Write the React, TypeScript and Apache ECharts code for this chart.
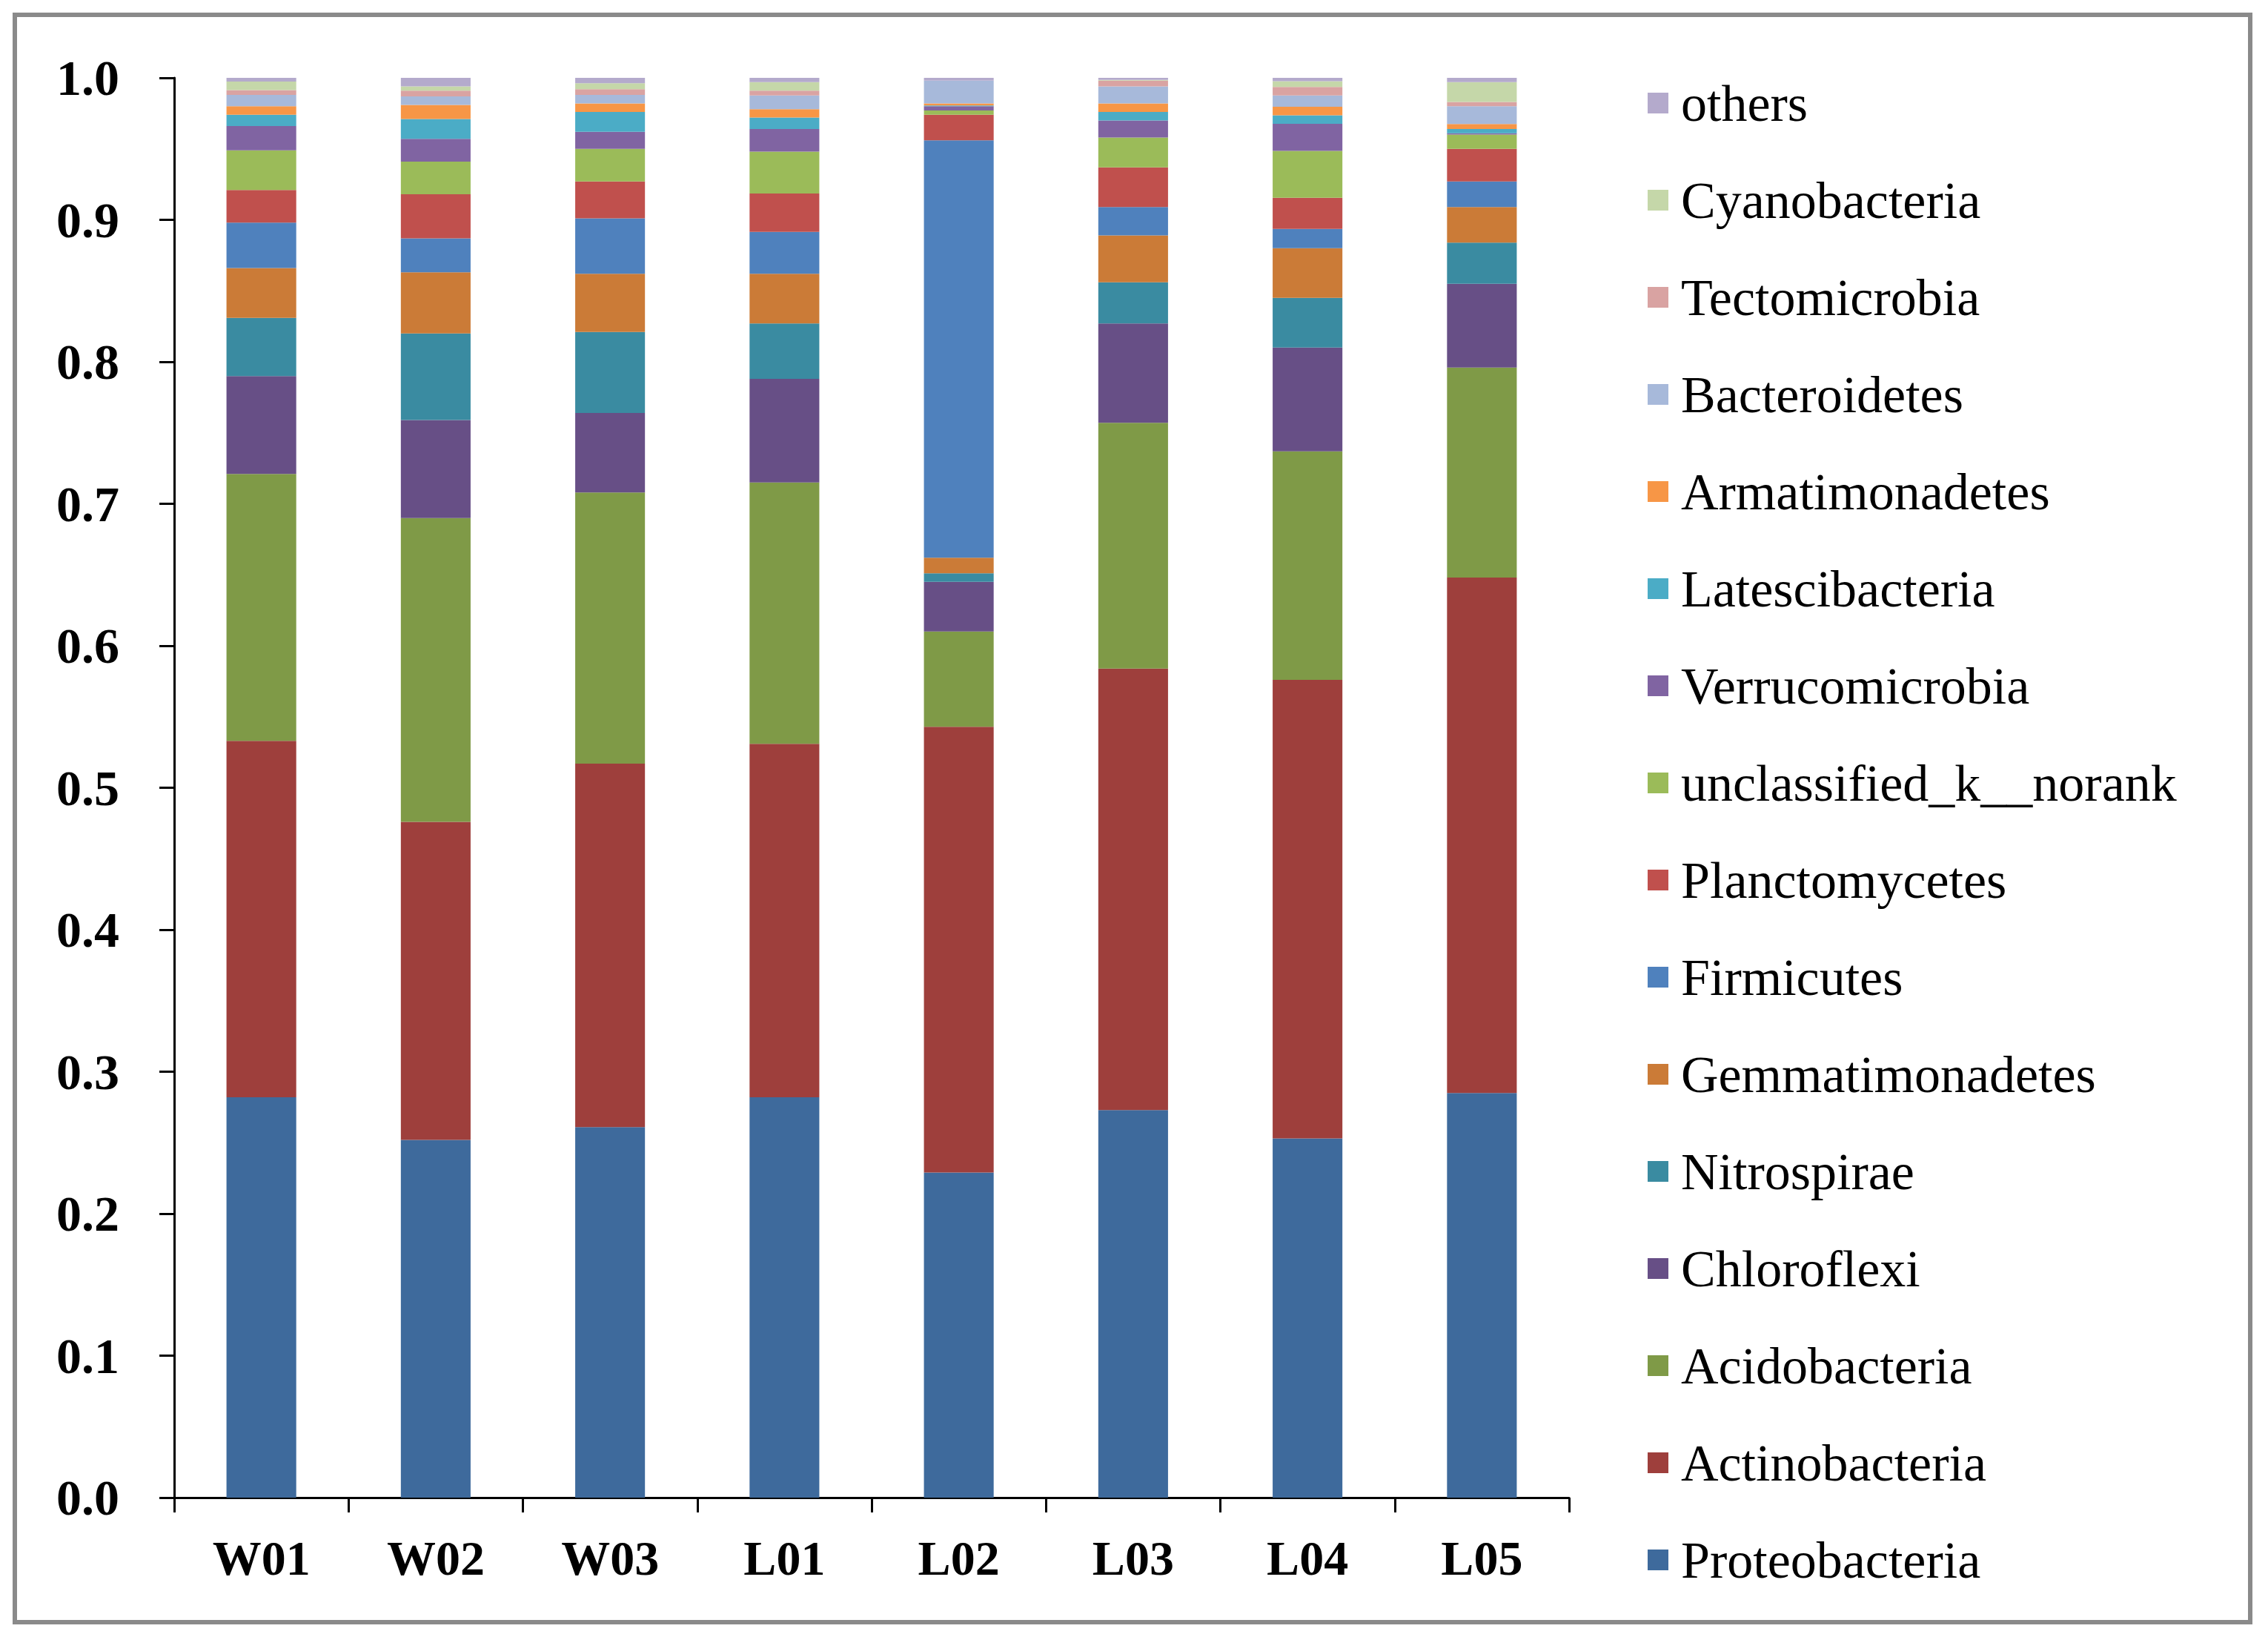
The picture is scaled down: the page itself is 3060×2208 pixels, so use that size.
import React, { useEffect, useRef } from "react";
import * as echarts from "echarts";

const categories = ["W01", "W02", "W03", "L01", "L02", "L03", "L04", "L05"];

const seriesNames = [
  "Proteobacteria",
  "Actinobacteria",
  "Acidobacteria",
  "Chloroflexi",
  "Nitrospirae",
  "Gemmatimonadetes",
  "Firmicutes",
  "Planctomycetes",
  "unclassified_k__norank",
  "Verrucomicrobia",
  "Latescibacteria",
  "Armatimonadetes",
  "Bacteroidetes",
  "Tectomicrobia",
  "Cyanobacteria",
  "others",
];

const seriesColors = [
  "#3E6A9C",
  "#9E3F3C",
  "#7F9A47",
  "#674F86",
  "#3A8BA1",
  "#CB7B37",
  "#4F81BD",
  "#C0504D",
  "#9BBB59",
  "#8064A2",
  "#4BACC6",
  "#F79646",
  "#A7B9DA",
  "#D9A3A2",
  "#C5D7A9",
  "#B4AACC",
];

// values per sample, order: W01, W02, W03, L01, L02, L03, L04, L05
const proteobacteria = [0.282, 0.252, 0.261, 0.282, 0.229, 0.273, 0.253, 0.285];
const actinobacteria = [0.251, 0.224, 0.256, 0.249, 0.314, 0.311, 0.323, 0.363];
const acidobacteria = [0.188, 0.214, 0.191, 0.184, 0.067, 0.173, 0.161, 0.148];
const chloroflexi = [0.069, 0.069, 0.056, 0.073, 0.035, 0.07, 0.073, 0.059];
const nitrospirae = [0.041, 0.061, 0.057, 0.039, 0.006, 0.029, 0.035, 0.029];
const gemmatimonadetes = [0.035, 0.043, 0.041, 0.035, 0.011, 0.033, 0.035, 0.025];
const firmicutes = [0.032, 0.024, 0.039, 0.0295, 0.294, 0.02, 0.0136, 0.018];
const planctomycetes = [0.023, 0.031, 0.026, 0.027, 0.018, 0.028, 0.022, 0.023];
const unclassified = [0.028, 0.023, 0.023, 0.0295, 0.003, 0.021, 0.033, 0.01];
const verrucomicrobia = [0.017, 0.016, 0.012, 0.016, 0.003, 0.012, 0.019, 0.001];
const latescibacteria = [0.008, 0.014, 0.014, 0.008, 0.0005, 0.006, 0.006, 0.003];
const armatimonadetes = [0.006, 0.01, 0.006, 0.006, 0.0015, 0.006, 0.006, 0.0035];
const bacteroidetes = [0.008, 0.006, 0.006, 0.0096, 0.016, 0.012, 0.008, 0.0125];
const tectomicrobia = [0.0034, 0.004, 0.004, 0.0034, 0, 0.004, 0.006, 0.003];
const cyanobacteria = [0.006, 0.003, 0.0042, 0.006, 0, 0.0005, 0.004, 0.014];
const others = [0.0026, 0.006, 0.0038, 0.003, 0.002, 0.0015, 0.0024, 0.003];

const seriesValues = [
  proteobacteria,
  actinobacteria,
  acidobacteria,
  chloroflexi,
  nitrospirae,
  gemmatimonadetes,
  firmicutes,
  planctomycetes,
  unclassified,
  verrucomicrobia,
  latescibacteria,
  armatimonadetes,
  bacteroidetes,
  tectomicrobia,
  cyanobacteria,
  others,
];

const yTicks = [0, 0.1, 0.2, 0.3, 0.4, 0.5, 0.6, 0.7, 0.8, 0.9, 1.0];

const FONT = "'Liberation Serif', 'Times New Roman', serif";

export default function App() {
  const ref = useRef<HTMLDivElement>(null);

  useEffect(() => {
    if (!ref.current) return;
    const chart = echarts.init(ref.current, null, { renderer: "svg" });
    const option = {
      animation: false,
      backgroundColor: "#ffffff",
      grid: { left: 235, right: 943, top: 105, bottom: 188, containLabel: false },
      legend: {
        orient: "vertical",
        left: 2218,
        top: 98,
        itemWidth: 28,
        itemHeight: 28,
        itemGap: 59,
        icon: "rect",
        data: [...seriesNames].reverse(),
        textStyle: {
          fontFamily: FONT,
          fontSize: 70,
          lineHeight: 72,
          color: "#000000",
          padding: [0, 0, 0, 12],
        },
      },
      xAxis: {
        type: "category",
        data: categories,
        axisLine: { show: true, lineStyle: { color: "#000000", width: 3 } },
        axisTick: { show: true, length: 20, lineStyle: { color: "#000000", width: 3 } },
        axisLabel: {
          margin: 48,
          fontFamily: FONT,
          fontWeight: "bold",
          fontSize: 66,
          color: "#000000",
        },
        splitLine: { show: false },
      },
      yAxis: {
        type: "value",
        min: 0,
        max: 1,
        interval: 0.1,
        axisLine: { show: true, lineStyle: { color: "#000000", width: 3 } },
        axisTick: { show: true, length: 20, lineStyle: { color: "#000000", width: 3 } },
        axisLabel: {
          margin: 74,
          fontFamily: FONT,
          fontWeight: "bold",
          fontSize: 68,
          color: "#000000",
          formatter: (v: number) => {
            const t = yTicks.find((x) => Math.abs(x - v) < 1e-9);
            return (t !== undefined ? t : v).toFixed(1);
          },
        },
        splitLine: { show: false },
      },
      graphic: [
        {
          type: "rect",
          shape: { x: 20, y: 20, width: 3016, height: 2168 },
          style: { fill: "none", stroke: "#8a8a8a", lineWidth: 6 },
          silent: true,
        },
      ],
      series: seriesNames.map((name, i) => ({
        name,
        type: "bar",
        stack: "total",
        barWidth: "40%",
        data: seriesValues[i],
        itemStyle: { color: seriesColors[i] },
      })),
    };
    chart.setOption(option as any);
    return () => {
      chart.dispose();
    };
  }, []);

  return (
    <div
      ref={ref}
      style={{ position: "fixed", left: 0, top: 0, width: 3060, height: 2208, background: "#fff" }}
    />
  );
}
